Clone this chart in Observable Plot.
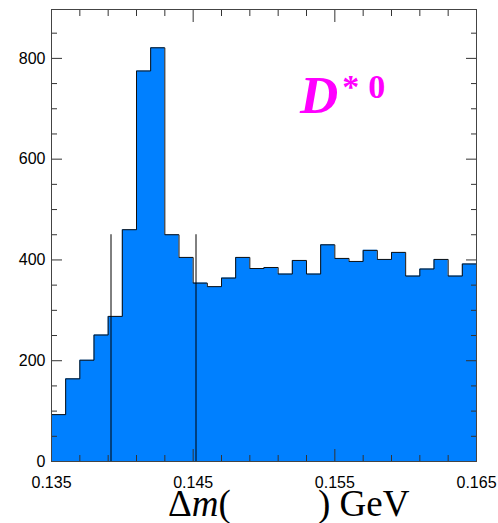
<!DOCTYPE html>
<html><head><meta charset="utf-8">
<script src="https://cdn.jsdelivr.net/npm/d3@7"></script>
<script src="https://cdn.jsdelivr.net/npm/@observablehq/plot@0.6"></script>
<style>html,body{margin:0;padding:0;background:#fff;overflow:hidden} #chart{width:498px;height:523px} #chart svg{display:block;max-width:none}</style>
</head><body><div id="chart"></div>
<script>
// Histogram of Δm, bins of 0.001 GeV from 0.135 to 0.165
const binEdges = [0.135,0.136,0.137,0.138,0.139,0.140,0.141,0.142,0.143,0.144,0.145,0.146,0.147,0.148,0.149,0.150,0.151,0.152,0.153,0.154,0.155,0.156,0.157,0.158,0.159,0.160,0.161,0.162,0.163,0.164,0.165];
const counts = [93,164,201,251,288,460,775,821,450,405,354,347,364,405,383,385,372,399,372,430,403,397,419,401,415,368,382,401,368,392];
const cutLines = [0.1392, 0.1452];
const cutHeight = 450;
const xMajorTicks = [0.135,0.145,0.155,0.165];
const xMinorTicks = [0.137,0.139,0.141,0.143,0.147,0.149,0.151,0.153,0.157,0.159,0.161,0.163];
const yMajorTicks = [0,200,400,600,800];
const yMinorTicks = [50,100,150,250,300,350,450,500,550,650,700,750,850];

const steps = counts.map((c,i)=>({x: binEdges[i], y: c}));
steps.push({x: binEdges[binEdges.length-1], y: counts[counts.length-1]});

const plot = Plot.plot({
  width: 498, height: 523,
  marginLeft: 51, marginRight: 22, marginTop: 9, marginBottom: 62,
  style: {fontFamily: "'Liberation Sans', Arial, sans-serif", background: "#fff"},
  x: {domain: [0.135, 0.165]},
  y: {domain: [0, 897]},
  marks: [
    Plot.areaY(steps, {x: "x", y: "y", curve: "step-after", fill: "#0080ff"}),
    Plot.lineY(steps, {x: "x", y: "y", curve: "step-after", stroke: "#111", strokeWidth: 1}),
    Plot.ruleX(cutLines, {y1: 0, y2: cutHeight, stroke: "#000", strokeWidth: 1}),
    // labels
    Plot.axisX(xMajorTicks, {anchor: "bottom", tickSize: 0, tickPadding: 15, fontSize: 16, tickFormat: d => d.toFixed(3), label: null}),
    Plot.axisY(yMajorTicks, {anchor: "left", tickSize: 0, tickPadding: 6, fontSize: 16, label: null}),
    // inward ticks
    Plot.axisX(xMinorTicks, {anchor: "bottom", tickSize: -6, tickFormat: () => "", label: null, stroke: "#333"}),
    Plot.axisX(xMajorTicks, {anchor: "bottom", tickSize: -12, tickFormat: () => "", label: null, stroke: "#333"}),
    Plot.axisX(xMinorTicks, {anchor: "top", tickSize: -6, tickFormat: () => "", label: null, stroke: "#333"}),
    Plot.axisX(xMajorTicks, {anchor: "top", tickSize: -12, tickFormat: () => "", label: null, stroke: "#333"}),
    Plot.axisY(yMinorTicks, {anchor: "left", tickSize: -6, tickFormat: () => "", label: null, stroke: "#333"}),
    Plot.axisY(yMajorTicks, {anchor: "left", tickSize: -11, tickFormat: () => "", label: null, stroke: "#333"}),
    Plot.axisY(yMinorTicks, {anchor: "right", tickSize: -6, tickFormat: () => "", label: null, stroke: "#333"}),
    Plot.axisY(yMajorTicks, {anchor: "right", tickSize: -11, tickFormat: () => "", label: null, stroke: "#333"}),
    Plot.frame({stroke: "#444", strokeWidth: 1})
  ]
});
document.getElementById("chart").appendChild(plot);

const svg = d3.select(plot);
const serif = "'Liberation Serif', 'Times New Roman', serif";
// x-axis title
const t1 = svg.append("text").attr("x", 168).attr("y", 516).attr("text-anchor", "start")
  .attr("font-family", serif).attr("font-size", 37).attr("fill", "#000");
t1.append("tspan").text("Δ");
t1.append("tspan").attr("font-style", "italic").text("m");
t1.append("tspan").text("(");
svg.append("text").attr("x", 318).attr("y", 516).attr("text-anchor", "start")
  .attr("font-family", serif).attr("font-size", 37).attr("fill", "#000")
  .text(") GeV");
// D*0 label
const t2 = svg.append("text").attr("x", 300).attr("y", 113).attr("text-anchor", "start")
  .attr("font-family", serif).attr("fill", "#ff00ff").attr("font-weight", "bold");
t2.append("tspan").attr("font-size", 53).attr("font-style", "italic").text("D");
t2.append("tspan").attr("font-size", 34).attr("dx", 4).attr("dy", -15).text("*");
t2.append("tspan").attr("font-size", 34).attr("dx", 9).text("0");
</script></body></html>
